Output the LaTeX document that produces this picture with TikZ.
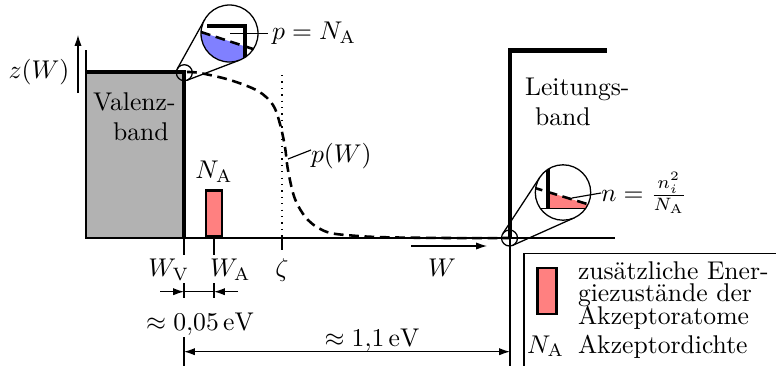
\documentclass[tikz,border=0pt]{standalone}
\usepackage{fontspec}
\usetikzlibrary{arrows.meta}
\begin{document}
\begin{tikzpicture}[x=0.39pt,y=-0.39pt,
  thinline/.style={line width=0.45pt},
  bandline/.style={line width=1.9pt},
  pcurve/.style={line width=1pt, dash pattern=on 3.8pt off 2.2pt},
  lensline/.style={line width=0.5pt},
  tip/.tip={Latex[length=4.2pt,width=2.8pt]},
  arr/.style={-tip},
  lbl/.style={inner sep=0pt, outer sep=0pt},
  statebox/.style={draw=black, line width=1.1pt, fill=red!50},
]
\useasboundingbox (0,0) rectangle (776,365);
\clip (0,0) rectangle (776,365);

% ---------- key coordinates
\coordinate (O)  at (86,238);   % origin of axes
\coordinate (VC) at (184,72);   % valence band corner
\coordinate (CC) at (510,238);  % conduction band foot

% ---------- valence band
\fill[black!30] (86,72) rectangle (184,238);
\draw[thinline] (86,50) -- (O) -- (615,238);
\draw[bandline] (86,72) -- (VC) -- (184,238);
\node[lbl, anchor=base west] (val1) at (93,110) {Valenz-};
\node[lbl, anchor=base west] (val2) at (113,140) {band};

% ---------- z(W) axis label
\draw[thinline, arr] (78,93) -- (78,35);
\node[lbl] (zW) at (39,72) {$z(W)$};

% ---------- conduction band
\draw[bandline] (CC) -- (510,50.7) -- (607,50.7);
\node[lbl, anchor=base west] (lei1) at (525,95.5) {Leitungs-};
\node[lbl, anchor=base west] (lei2) at (535,125) {band};

% ---------- acceptor level
\node[statebox, minimum width=16*0.39pt, minimum height=46*0.39pt, inner sep=0pt, anchor=south] (NA) at (214,238) {};
\node[lbl, anchor=base] (NAlbl) at (214,178.5) {$N_\mathrm{A}$};

% ---------- Fermi level
\draw[line width=0.5pt, dotted] (282,75) -- (282,238);
\draw[thinline] (282,238) -- (282,250);
\node[lbl, anchor=base] (zeta) at (282,276.5) {$\zeta$};

% ---------- p(W) curve
\draw[pcurve] plot[smooth, tension=0.55] coordinates {(187,72) (200,73) (230,80) (258,91) (273,105) (280,124) (285,147) (288,170) (295,199) (308,220) (327,232) (353,235.6) (387,237.3) (450,238) (510,238)};
\node[lbl, anchor=base west] (pW) at (311,162) {$p(W)$};
\draw[thinline] (288,159) -- (pW.west |- 0,150);

% ---------- ticks and labels on axis
\draw[thinline] (184,238) -- (184,255);
\draw[thinline] (214,238) -- (214,255);
\node[lbl, anchor=base east] (WV) at (189,276.5) {$W_\mathrm{V}$};
\node[lbl, anchor=base west] (WA) at (210,276.5) {$W_\mathrm{A}$};

% ---------- W direction arrow
\coordinate (Wa) at (411,246);
\coordinate (Wb) at (487,246);
\draw[thinline, arr] (Wa) -- (Wb);
\node[lbl, anchor=base] (Wlbl) at (442,276.5) {$W$};

% ---------- 0,05 eV dimension
\coordinate (d1a) at (160,291.7);
\coordinate (d1b) at (184,291.7);
\coordinate (d1c) at (214,291.7);
\coordinate (d1d) at (238,291.7);
\draw[thinline] (184,283) -- (184,298);
\draw[thinline] (214,283) -- (214,298);
\draw[thinline, arr] (d1a) -- (d1b);
\draw[thinline, arr] (d1d) -- (d1c);
\draw[thinline] (d1b) -- (d1c);
\node[lbl, anchor=base] (e005) at (200,330) {$\approx 0{,}05\,\mathrm{eV}$};

% ---------- 1,1 eV dimension
\coordinate (d2a) at (184,351.7);
\coordinate (d2b) at (510,351.7);
\draw[thinline] (184,337) -- (184,370);
\draw[thinline] (CC) -- (510,370);
\draw[thinline, tip-tip] (d2a) -- (d2b);
\node[lbl, anchor=base] (e11) at (372,346) {$\approx 1{,}1\,\mathrm{eV}$};

% ---------- magnifier at valence band corner
\coordinate (m1s) at (184.3,72.7);
\coordinate (m1b) at (229.5,33.5);
\draw[lensline] (187.2,80.2) -- (239.7,60.1);
\draw[lensline] (177.3,68.8) -- (204.6,19.7);
\begin{scope}
  \clip (m1b) circle[radius=28.5];
  \fill[white] (m1b) circle[radius=28.5];
  \fill[blue!50] (195,30.0) -- (245,46.4) -- (245,70) -- (195,70) -- cycle;
  \draw[pcurve] (201,32) -- (258,50.6);
  \draw[bandline] (207,26) -- (245,26) -- (245,70);
  \draw[thinline] (230,33.5) -- (270,33.5);
\end{scope}
\draw[thinline] (257,33.5) -- (268,33.5);
\draw[lensline] (m1s) circle[radius=8];
\draw[lensline] (m1b) circle[radius=28.5];
\node[lbl, anchor=base west] (pNA) at (272,39.5) {$p=N_\mathrm{A}$};

% ---------- magnifier at conduction band foot
\coordinate (m2s) at (509.5,238);
\coordinate (m2b) at (563,192.5);
\draw[lensline] (512.8,245.3) -- (574.3,217.8);
\draw[lensline] (502.8,233.6) -- (539.8,177.3);
\begin{scope}
  \clip (m2b) circle[radius=27.7];
  \fill[white] (m2b) circle[radius=27.7];
  \fill[red!50] (548,192) -- (600,208) -- (600,208.3) -- (548,208.3) -- cycle;
  \draw[thinline] (530,208.3) -- (600,208.3);
  \draw[pcurve] (533,187.4) -- (595,206.4);
  \draw[bandline] (548,160) -- (548,208.3);
\end{scope}
\draw[lensline] (m2s) circle[radius=8];
\draw[lensline] (m2b) circle[radius=27.7];
\node[lbl, anchor=west] (nfrac) at (601,193) {$n=\frac{n_i^2}{N_\mathrm{A}}$};
\draw[thinline] (572,198) -- (nfrac.west);

% ---------- legend
\draw[line width=0.6pt] (800,253.3) -- (524,253.3) -- (524,400);
\node[statebox, minimum width=19*0.39pt, minimum height=46*0.39pt, inner sep=0pt] (legbox) at (547,291) {};
\node[lbl, anchor=base west] (leg1) at (578,279.5) {zusätzliche Ener-};
\node[lbl, anchor=base west] (leg2) at (578,301.5) {giezustände der};
\node[lbl, anchor=base west] (leg3) at (578,324) {Akzeptoratome};
\node[lbl, anchor=base west] (leg4a) at (527,353) {$N_\mathrm{A}$};
\node[lbl, anchor=base west] (leg4b) at (578,353) {Akzeptordichte};
\end{tikzpicture}
\end{document}
